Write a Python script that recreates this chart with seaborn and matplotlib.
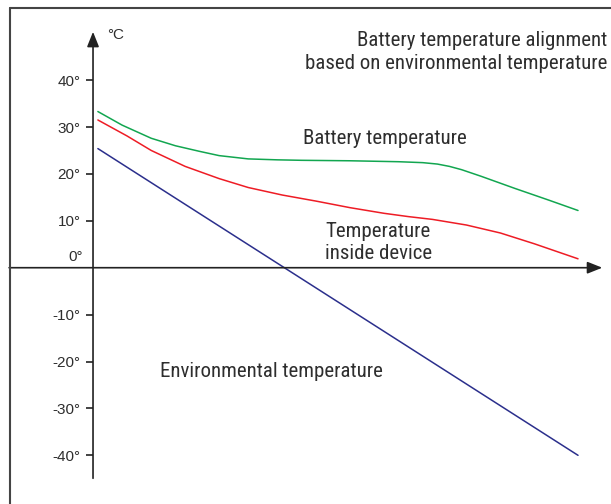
import pandas as pd
import matplotlib.pyplot as plt
import seaborn as sns
from matplotlib.lines import Line2D

# values (x = relative position along the axis, y = °C)
x_battery = [0.1, 0.6, 1.2, 1.7, 2.2, 2.6, 3.2, 3.8, 4.3, 5.3, 6.3, 6.8, 7.1, 7.35, 7.6, 8.0, 8.7, 9.4, 10.0]
t_battery = [33.3, 30.4, 27.6, 26.0, 24.8, 23.9, 23.2, 23.0, 22.9, 22.8, 22.6, 22.4, 22.1, 21.6, 20.9, 19.5, 16.9, 14.4, 12.2]

x_device = [0.1, 0.7, 1.2, 1.9, 2.6, 3.2, 3.9, 4.6, 5.3, 6.0, 6.5, 7.0, 7.7, 8.4, 9.1, 10.0]
t_device = [31.5, 28.1, 25.0, 21.6, 19.0, 17.1, 15.5, 14.2, 12.8, 11.6, 10.9, 10.3, 9.1, 7.4, 5.1, 1.9]

x_env = [0.1, 10.0]
t_env = [25.4, -40.0]

y_ticks = [-40, -30, -20, -10, 10, 20, 30, 40]
y_labels = [f"{v}°" for v in y_ticks]

sns.set_theme(style="white")
plt.rcParams['font.family'] = ['Liberation Sans', 'DejaVu Sans']
narrow = ['Roboto Condensed', 'Liberation Sans', 'DejaVu Sans']
txt = '#2e2e2e'

fig = plt.figure(figsize=(6.11, 5.04), dpi=100)
ax = fig.add_axes([0, 0, 1, 1])
ax.set_xlim(-1.918, 10.68)
ax.set_ylim(-50.38, 57.08)

df = pd.concat([
    pd.DataFrame({'x': x_battery, 't': t_battery, 's': 'Battery'}),
    pd.DataFrame({'x': x_device, 't': t_device, 's': 'Device'}),
    pd.DataFrame({'x': x_env, 't': t_env, 's': 'Environment'}),
])
sns.lineplot(data=df, x='x', y='t', hue='s',
             palette={'Battery': '#12a650', 'Device': '#ee1c25', 'Environment': '#2b2f8c'},
             linewidth=1.1, legend=False, ax=ax)

# axes with arrows
for s in ax.spines.values():
    s.set_color('none')
ax.spines['left'].set_position(('data', 0))
arrow = dict(arrowstyle='-|>,head_length=0.75,head_width=0.3', color='#222222',
             lw=1.2, shrinkA=0, shrinkB=0)
ax.annotate('', xy=(10.5, 0), xytext=(-1.73, 0), arrowprops=arrow)
ax.annotate('', xy=(0, 50.3), xytext=(0, -44.9), arrowprops=arrow)

ax.set_xticks([])
ax.set_yticks(y_ticks)
ax.set_yticklabels(y_labels)
ax.tick_params(axis='y', which='major', left=True, direction='out', length=5, width=1.2,
               color='#222222', labelsize=11, labelcolor=txt, pad=4)
ax.set_xlabel('')
ax.set_ylabel('')

ax.text(-0.21, 1.4, "0°", ha='right', va='baseline', fontsize=11, color=txt)
ax.text(0.29, 49.6, "°C", ha='left', va='center', fontsize=11, color=txt)

fs = 15
ax.text(10.61, 47.3, "Battery temperature alignment", ha='right', va='baseline',
        fontsize=fs, color=txt, family=narrow)
ax.text(10.61, 42.3, "based on environmental temperature", ha='right', va='baseline',
        fontsize=fs, color=txt, family=narrow)
ax.text(4.33, 26.4, "Battery temperature", ha='left', va='baseline',
        fontsize=fs, color=txt, family=narrow)
ax.text(5.88, 6.6, "Temperature", ha='center', va='baseline',
        fontsize=fs, color=txt, family=narrow)
ax.text(5.88, 1.8, "inside device", ha='center', va='baseline',
        fontsize=fs, color=txt, family=narrow)
ax.text(1.38, -23.4, "Environmental temperature", ha='left', va='baseline',
        fontsize=fs, color=txt, family=narrow)

# frame around the picture (left and top edges)
fig.add_artist(Line2D([9.5 / 611, 9.5 / 611], [0, 1 - 7.5 / 504], color='#444444', lw=1.5))
fig.add_artist(Line2D([9.5 / 611, 1], [1 - 7.5 / 504, 1 - 7.5 / 504], color='#444444', lw=1.5))

fig.savefig('out.png', dpi=100)
